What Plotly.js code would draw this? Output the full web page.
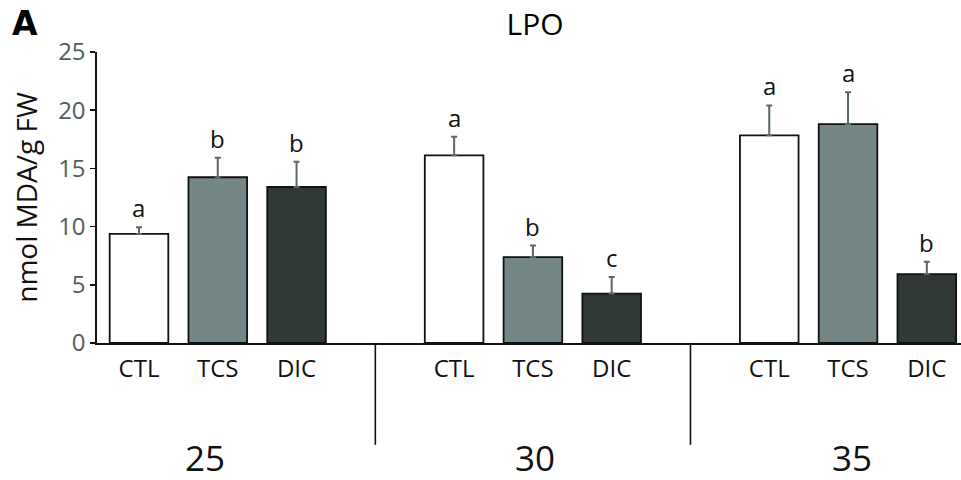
<!DOCTYPE html>
<html>
<head>
<meta charset="utf-8">
<script src="https://cdn.plot.ly/plotly-3.0.1.min.js"></script>
<style>html,body{margin:0;padding:0;background:#fff;}#chart{width:961px;height:480px;}</style>
</head>
<body>
<div id="chart"></div>
<script>
// Data
const treatments = ["CTL", "TCS", "DIC"];
const temperatures = ["25", "30", "35"];
const ctlValues = [9.37, 16.12, 17.84];
const ctlErrors = [0.58, 1.60, 2.57];
const tcsValues = [14.24, 7.38, 18.81];
const tcsErrors = [1.68, 0.99, 2.74];
const dicValues = [13.40, 4.25, 5.92];
const dicErrors = [2.17, 1.41, 1.05];
const ctlLetters = ["a", "a", "a"];
const tcsLetters = ["b", "b", "a"];
const dicLetters = ["b", "c", "b"];

const FONT = "Open Sans, Noto Sans, DejaVu Sans, sans-serif";
const colors = ["#ffffff", "#748686", "#303838"];
const errColor = "#5a6868";

const series = [
  {vals: ctlValues, errs: ctlErrors, letters: ctlLetters},
  {vals: tcsValues, errs: tcsErrors, letters: tcsLetters},
  {vals: dicValues, errs: dicErrors, letters: dicLetters}
];

// slot position: group * 4 + treatment index (empty slot between groups)
const pos = (g, t) => g * 4 + t;

const traces = series.map((s, t) => ({
  type: "bar",
  name: treatments[t],
  x: temperatures.map((_, g) => pos(g, t)),
  y: s.vals,
  width: 0.744,
  marker: {color: colors[t], line: {color: "#111", width: 1.8}},
  error_y: {type: "data", array: s.errs, arrayminus: s.vals.map(() => 0), symmetric: false,
            color: errColor, thickness: 2, width: 3},
  hoverinfo: "x+y"
}));

const annotations = [];
series.forEach((s, t) => {
  temperatures.forEach((_, g) => {
    annotations.push({
      x: pos(g, t), y: s.vals[g] + s.errs[g], xref: "x", yref: "y",
      text: s.letters[g], showarrow: false, yanchor: "bottom", yshift: 1,
      font: {family: FONT, size: 24, color: "#111"}
    });
  });
});
const groupShift = [-13, 2, 4];
temperatures.forEach((temp, g) => {
  annotations.push({
    x: pos(g, 1), y: 0, xref: "x", yref: "paper", yshift: -114, xshift: groupShift[g],
    text: temp, showarrow: false, yanchor: "middle",
    font: {family: FONT, size: 35, color: "#111"}
  });
});
// panel letter (paper coords relative to plot area: l=97, plot width 864, t=52, plot height 291)
annotations.push({
  x: (10 - 97) / 864, y: (343 - 24) / 291, xref: "paper", yref: "paper",
  xanchor: "left", yanchor: "middle",
  text: "<b>A</b>", showarrow: false,
  font: {family: "DejaVu Sans, Open Sans, sans-serif", size: 33, color: "#000"}
});

const tickPos = [], tickText = [];
temperatures.forEach((_, g) => treatments.forEach((tr, t) => { tickPos.push(pos(g, t)); tickText.push(tr); }));

const shapes = [3, 7].map(xv => ({
  type: "line", xref: "x", yref: "paper", x0: xv, x1: xv, y0: 0, y1: -0.35,
  line: {color: "#111", width: 1.6}
}));

const layout = {
  width: 961, height: 480,
  margin: {l: 97, r: 0, t: 52, b: 137, pad: 0},
  paper_bgcolor: "#fff", plot_bgcolor: "#fff",
  showlegend: false,
  barmode: "overlay",
  title: {text: "LPO", x: 535 / 961, xanchor: "center", y: 1 - 24 / 480, yanchor: "middle",
          xref: "container", yref: "container",
          font: {family: FONT, size: 30, color: "#000"}},
  xaxis: {
    range: [-0.533, 10.434], tickmode: "array", tickvals: tickPos, ticktext: tickText,
    showline: true, linecolor: "#111", linewidth: 1.6, ticks: "", showgrid: false, zeroline: false,
    ticklabelstandoff: 4,
    tickfont: {family: FONT, size: 24, color: "#111"}, fixedrange: true
  },
  yaxis: {
    range: [0, 25], tickmode: "array", tickvals: [0, 5, 10, 15, 20, 25],
    showline: true, linecolor: "#111", linewidth: 1.6, ticks: "outside", ticklen: 5, tickwidth: 1.6,
    tickcolor: "#111", showgrid: false, zeroline: false,
    tickfont: {family: FONT, size: 24, color: "#4e5e5e"},
    title: {text: "nmol MDA/g FW", standoff: 12, font: {family: FONT, size: 28, color: "#111"}},
    fixedrange: true
  },
  annotations: annotations,
  shapes: shapes
};

Plotly.newPlot("chart", traces, layout, {displayModeBar: false, staticPlot: true});
</script>
</body>
</html>
